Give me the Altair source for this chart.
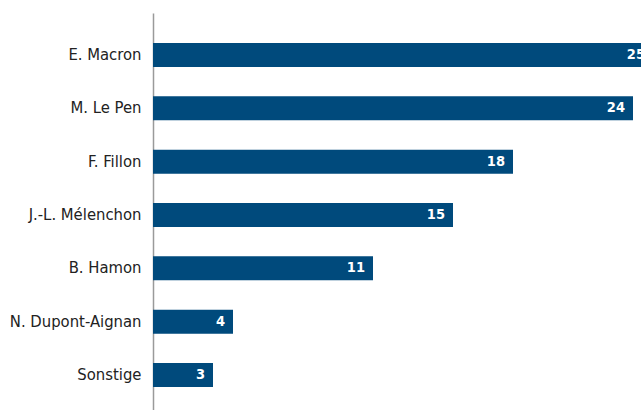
import altair as alt
import pandas as pd

names = ["E. Macron", "M. Le Pen", "F. Fillon", "J.-L. Mélenchon", "B. Hamon", "N. Dupont-Aignan", "Sonstige"]
values = [25, 24, 18, 15, 11, 4, 3]

df = pd.DataFrame({"name": names, "value": values})

FONT = "DejaVu Sans Condensed, Roboto, sans-serif"

y = alt.Y("name:N", sort=names,
          scale=alt.Scale(paddingInner=0.55, paddingOuter=0.497, align=0.566),
          axis=alt.Axis(title=None, ticks=False, labelPadding=12, labelFont=FONT,
                        labelFontSize=16.5, labelColor="#222222", domainColor="#9a9a9a",
                        domainWidth=1.5, grid=False, minExtent=153, maxExtent=153,
                        labelLimit=150))
x = alt.X("value:Q", scale=alt.Scale(domain=[0, 24.4], nice=False, zero=True),
          axis=None)

bars = alt.Chart(df).mark_bar(color="#004a7c", clip=True).encode(x=x, y=y)
labels = alt.Chart(df).mark_text(align="right", dx=-8, color="white", font=FONT,
                                 fontWeight="bold", fontSize=14.5, clip=True,
                                 baseline="middle").encode(
    x=x, y=alt.Y("name:N", sort=names), text="value:Q")

chart = (bars + labels).properties(
    width=488, height=397,
    padding={"left": 0, "top": 13, "right": 0, "bottom": 0},
    background="white",
).configure_view(stroke=None)

chart.save("out.html", embed_options={"renderer": "svg", "actions": False})
